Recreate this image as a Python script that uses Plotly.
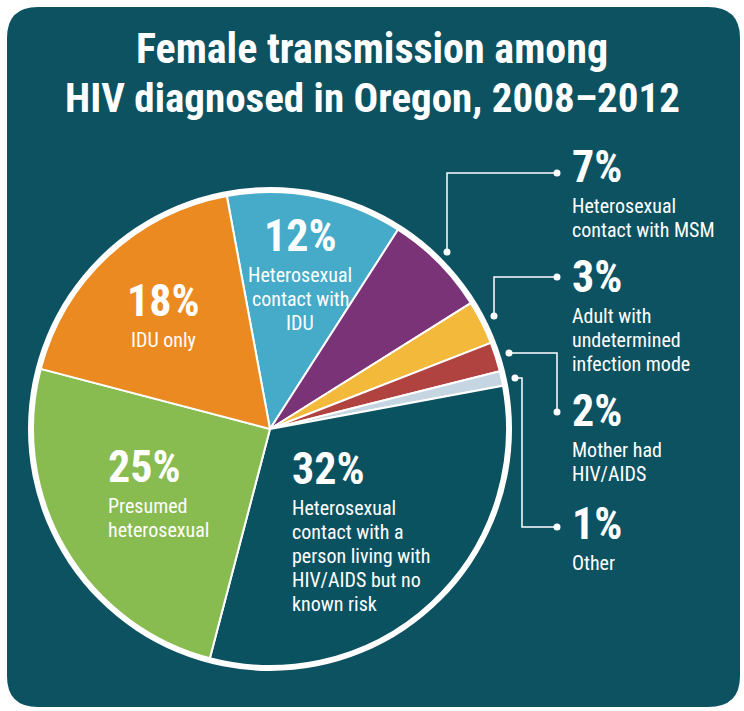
import plotly.graph_objects as go

# ---- data ----
categories = [
    "Heterosexual contact with IDU",
    "Heterosexual contact with MSM",
    "Adult with undetermined infection mode",
    "Mother had HIV/AIDS",
    "Other",
    "Heterosexual contact with a person living with HIV/AIDS but no known risk",
    "Presumed heterosexual",
    "IDU only",
]
values = [12, 7, 3, 2, 1, 32, 25, 18]
colors = ["#46abc8", "#7b3378", "#f2b93b", "#b0423f", "#c5d5e1", "#0b5261", "#88bb50", "#ec8a22"]

title_lines = ["Female transmission among", "HIV diagnosed in Oregon, 2008\u20132012"]
label_lines = [
    ["Heterosexual", "contact with", "IDU"],
    ["Heterosexual", "contact with MSM"],
    ["Adult with", "undetermined", "infection mode"],
    ["Mother had", "HIV/AIDS"],
    ["Other"],
    ["Heterosexual", "contact with a", "person living with", "HIV/AIDS but no", "known risk"],
    ["Presumed", "heterosexual"],
    ["IDU only"],
]

W, H = 744, 711
BG = "#0d5261"
FONT = "Liberation Sans Narrow, Arial Narrow, Roboto Condensed, Roboto, Liberation Sans, sans-serif"

cx, cy, R = 270, 429, 237

fig = go.Figure()
fig.add_trace(go.Pie(
    values=values, labels=categories, sort=False, direction="clockwise", rotation=-10.5,
    marker=dict(colors=colors, line=dict(color="white", width=2)),
    textinfo="none", hoverinfo="label+percent", showlegend=False,
    domain=dict(x=[(cx - R) / W, (cx + R) / W], y=[(H - cy - R) / H, (H - cy + R) / H]),
))

shapes = [
    dict(type="path", xref="x", yref="y",
         path=("M 7,38 Q 7,7 38,7 L 708,7 Q 740,7 740,38 L 740,676 Q 740,707 708,707 "
               "L 38,707 Q 7,707 7,676 Z"),
         fillcolor=BG, line=dict(width=0), layer="below"),
    dict(type="circle", xref="x", yref="y", x0=cx - R - 5, x1=cx + R + 5, y0=cy - R - 5, y1=cy + R + 5,
         fillcolor="white", line=dict(width=0), layer="below"),
]

annotations = []

def txt(x, y, s, size, bold=False, xanchor="center"):
    annotations.append(dict(
        x=x, y=y, xref="x", yref="y", text=s, showarrow=False, xanchor=xanchor, yanchor="middle",
        font=dict(family=FONT, size=size, color="white", weight="bold" if bold else "normal"),
        borderpad=0,
    ))

# title
txt(372, 48, title_lines[0], 42, True)
txt(372, 98, title_lines[1], 41, True)

pct = [f"{v}%" for v in values]

def block(i, x, ytop, xanchor, big=44, small=20, first=52.5, step=24):
    txt(x, ytop + 14, pct[i], big, True, xanchor)
    y = ytop + first
    for line in label_lines[i]:
        txt(x, y, line, small, False, xanchor)
        y += step

# inside labels
block(0, 300, 222, "center")
block(7, 163, 287, "center")
block(6, 107, 453, "left")
block(5, 291, 455, "left")
# outside labels
block(1, 571, 153, "left")
block(2, 571, 263, "left")
block(3, 571, 397, "left")
block(4, 571, 510, "left")

# leader lines
leaders = [
    [(447, 252), (447, 173), (557, 173)],
    [(494, 316), (494, 277), (557, 277)],
    [(509, 353), (557, 353), (557, 412)],
    [(515, 378), (522, 378), (522, 527), (557, 527)],
]
for pts in leaders:
    path = "M " + " L ".join(f"{x},{y}" for x, y in pts)
    shapes.append(dict(type="path", xref="x", yref="y", path=path, line=dict(color="white", width=1.5)))
    for (x, y) in (pts[0], pts[-1]):
        shapes.append(dict(type="circle", xref="x", yref="y", x0=x - 3.5, x1=x + 3.5, y0=y - 3.5, y1=y + 3.5,
                           fillcolor="white", line=dict(width=0)))

fig.update_layout(
    width=W, height=H, margin=dict(l=0, r=0, t=0, b=0),
    paper_bgcolor="white", plot_bgcolor="rgba(0,0,0,0)",
    xaxis=dict(range=[0, W], visible=False, fixedrange=True),
    yaxis=dict(range=[H, 0], visible=False, fixedrange=True),
    shapes=shapes, annotations=annotations,
)
fig.write_html(
    "out.html",
    config={"displayModeBar": False},
    post_script="document.body.style.margin='0';document.body.style.overflow='hidden';",
)
